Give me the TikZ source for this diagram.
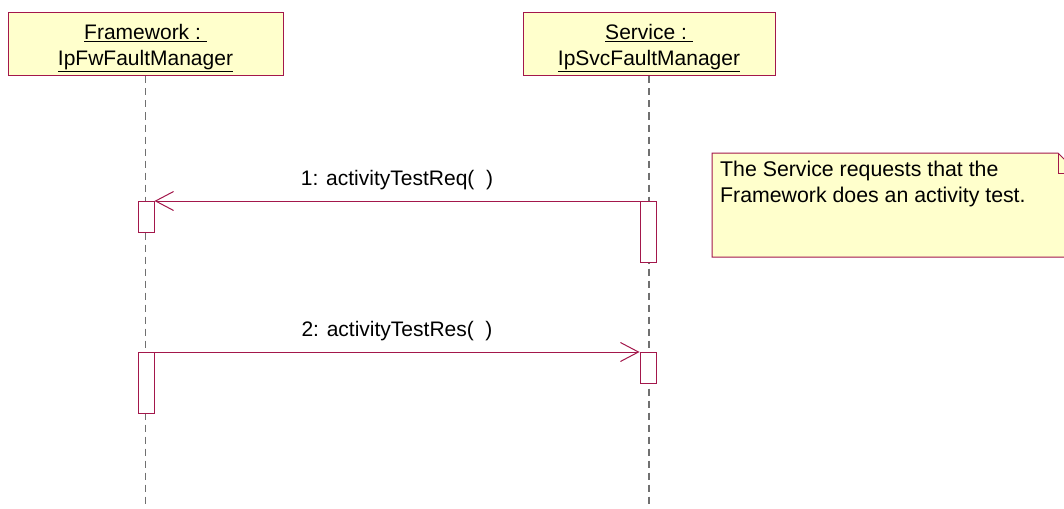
\documentclass[tikz,border=0pt]{standalone}
\usepackage{fontspec}
\setmainfont{Liberation Sans}
\usepackage{tikz}
\usetikzlibrary{arrows.meta, positioning}
\definecolor{trait}{HTML}{A3174B}
\definecolor{fondnote}{HTML}{FFFFCC}
\definecolor{gris}{HTML}{707070}
\tikzset{
  objet/.style={rectangle, draw=trait, fill=fondnote, line width=1pt,
    font=\fontsize{21}{26}\selectfont, align=center, minimum height=63pt,
    inner sep=0pt},
  activ/.style={rectangle, draw=trait, fill=white, line width=1pt,
    minimum width=16pt, anchor=north, inner sep=0pt},
  vie/.style={dash pattern=on 7pt off 5pt, color=gris, line width=1.4pt},
  message/.style={-{Straight Barb[length=18pt, width=19pt]}, color=trait,
    line width=1pt},
  etiquette/.style={font=\fontsize{21}{24}\selectfont, above=7pt, text=black},
  notetexte/.style={font=\fontsize{21.3}{26}\selectfont, align=left,
    anchor=north west, inner sep=0pt}
}
\begin{document}
\begin{tikzpicture}[x=1pt, y=-1pt]
  \useasboundingbox[fill=white] (0,0) rectangle (1064,508);

  % objets
  \node[objet, minimum width=275pt, text depth=-2pt] (fw) at (145.5,44.5)
    {\underline{Framework :\ }\\\underline{IpFwFaultManager}};
  \node[objet, minimum width=252pt, text depth=-2pt] (svc) at (649,44.5)
    {\underline{Service :\ }\\\underline{IpSvcFaultManager}};

  % lignes de vie
  \coordinate (fin) at (0,508);
  \draw[vie] (fw.south) -- (fw.south |- fin);
  \draw[vie] (svc.south) -- (svc.south |- fin);

  % activations
  \node[activ, minimum height=31pt] (fwA) at (146,201) {};
  \node[activ, minimum height=61pt] (svcA) at (648,201) {};
  \node[activ, minimum height=31pt] (svcB) at (648,352) {};
  \node[activ, minimum height=61pt] (fwB) at (146,352) {};

  % messages
  \draw[message] (svcA.north west) -- node[etiquette]{1: activityTestReq(\ \ )} (fwA.north east);
  \draw[message] (fwB.north east) -- node[etiquette]{2: activityTestRes(\ \ )} (svcB.north west);

  % note
  \draw[trait, fill=fondnote, line width=1pt] (712,153) -- (1058,153) -- (1078,173)
    -- (1078,257) -- (712,257) -- cycle;
  \draw[trait, line width=1pt] (1058,153) -- (1058,173) -- (1078,173);
  \node[notetexte] (note) at (720,161)
    {The Service requests that the\\Framework does an activity test.};
\end{tikzpicture}
\end{document}
